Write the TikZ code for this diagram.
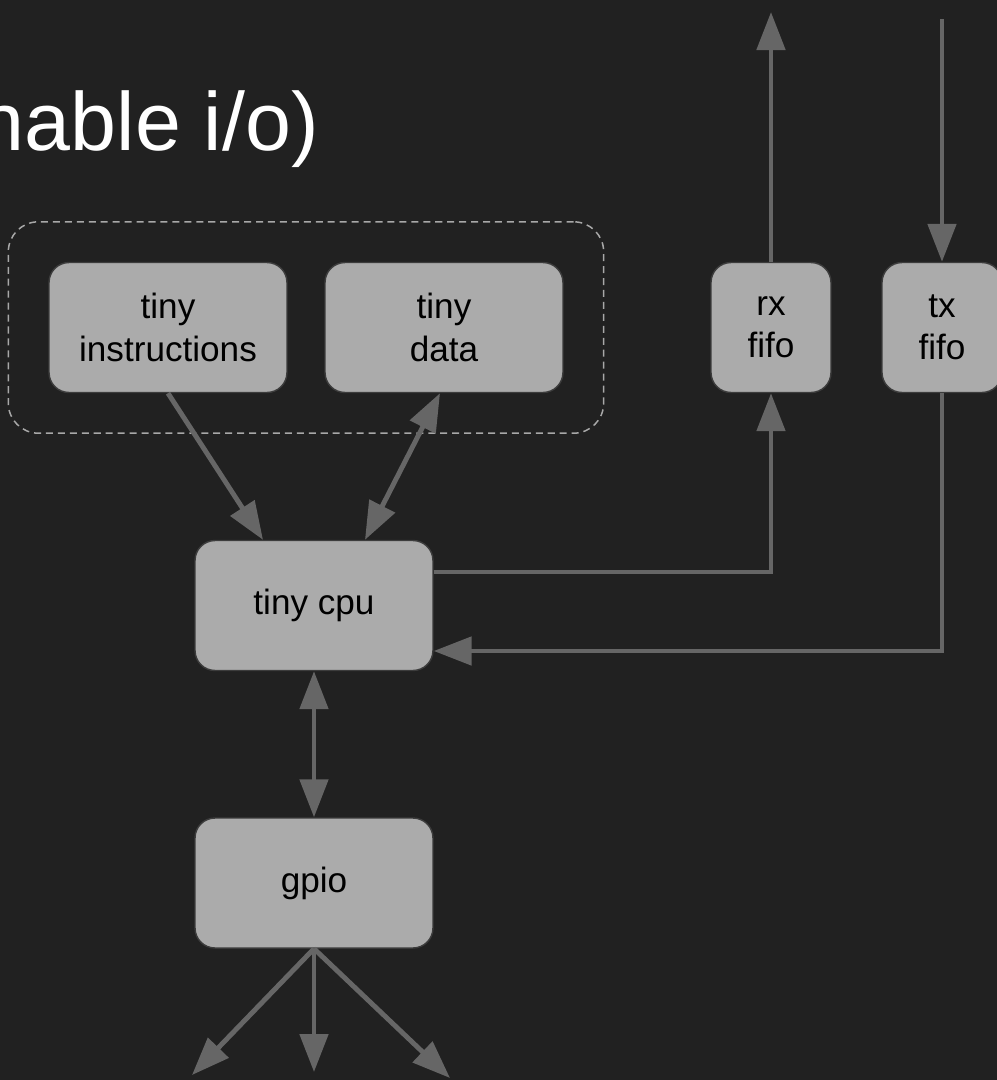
\documentclass[tikz,border=0pt]{standalone}
\usepackage{fontspec}
\setmainfont{Liberation Sans}
\usetikzlibrary{arrows.meta,fit}

\definecolor{bgdark}{HTML}{212121}
\definecolor{boxgray}{HTML}{ABABAB}
\definecolor{boxedge}{HTML}{3C3C3C}
\definecolor{wiregray}{HTML}{666666}
\definecolor{dashgray}{HTML}{A8A8A8}

\begin{document}
\begin{tikzpicture}[x=0.02cm,y=-0.02cm,
    blk/.style={draw=boxedge,line width=0.8pt,fill=boxgray,rounded corners=0.4cm,
      minimum width=4.76cm,minimum height=2.6cm,inner sep=0pt,align=center,
      text=black,font=\fontsize{20}{24}\selectfont},
    fifo/.style={blk,minimum width=2.4cm},
    wire/.style={draw=wiregray,line width=2.8pt,-{Triangle[length=0.76cm,width=0.56cm]}},
    biwire/.style={wire,{Triangle[length=0.76cm,width=0.56cm]}-{Triangle[length=0.76cm,width=0.56cm]}}]

        % page and background
        \fill[bgdark] (0,0) rectangle (997,1080);
        \useasboundingbox (0,0) rectangle (997,1080);
        \clip (0,0) rectangle (997,1080);

        \node[anchor=base east,inner sep=0pt,text=white,font=\fontsize{47}{56}\selectfont] (title) at (319,150) {nable i/o)};

        % memories
        \node[blk] (instr) at (168,327.5) {tiny\\instructions};
        \node[blk] (data) at (444,327.5) {tiny\\data};
        \node[draw=dashgray,line width=0.85pt,dash pattern=on 4pt off 2.8pt,rounded corners=0.6cm,
          inner sep=0.8cm,fit=(instr)(data)] (mem) {};

        % fifos
        \node[fifo] (rx) at (771,327.5) {rx\\fifo};
        \node[fifo] (tx) at (942,327.5) {tx\\fifo};
        \coordinate (rxout) at (771,12);
        \coordinate (txin) at (942,19);

        % cpu and gpio
        \node[blk] (cpu) at (314,605.5) {tiny cpu};
        \node[blk] (gpio) at (314,883) {gpio};
        \coordinate (pin1) at (192,1075);
        \coordinate (pin2) at (314,1072);
        \coordinate (pin3) at (450,1078);

        \draw[wire] (instr.south) -- ([xshift=-1.02cm]cpu.north);
        \draw[biwire] ([xshift=1.02cm]cpu.north) -- ([xshift=-0.08cm]data.south);

        \draw[wire] ([yshift=0.67cm]cpu.east) -| (rx.south);
        \draw[wire] (rx.north) -- (rxout);
        \draw[wire] (txin) -- (tx.north);
        \draw[wire] (tx.south) |- ([yshift=-0.91cm]cpu.east);

        \draw[biwire] (cpu.south) -- (gpio.north);
        \draw[wire] (gpio.south) -- (pin1);
        \draw[wire] (gpio.south) -- (pin2);
        \draw[wire] (gpio.south) -- (pin3);

    \end{tikzpicture}
\end{document}
